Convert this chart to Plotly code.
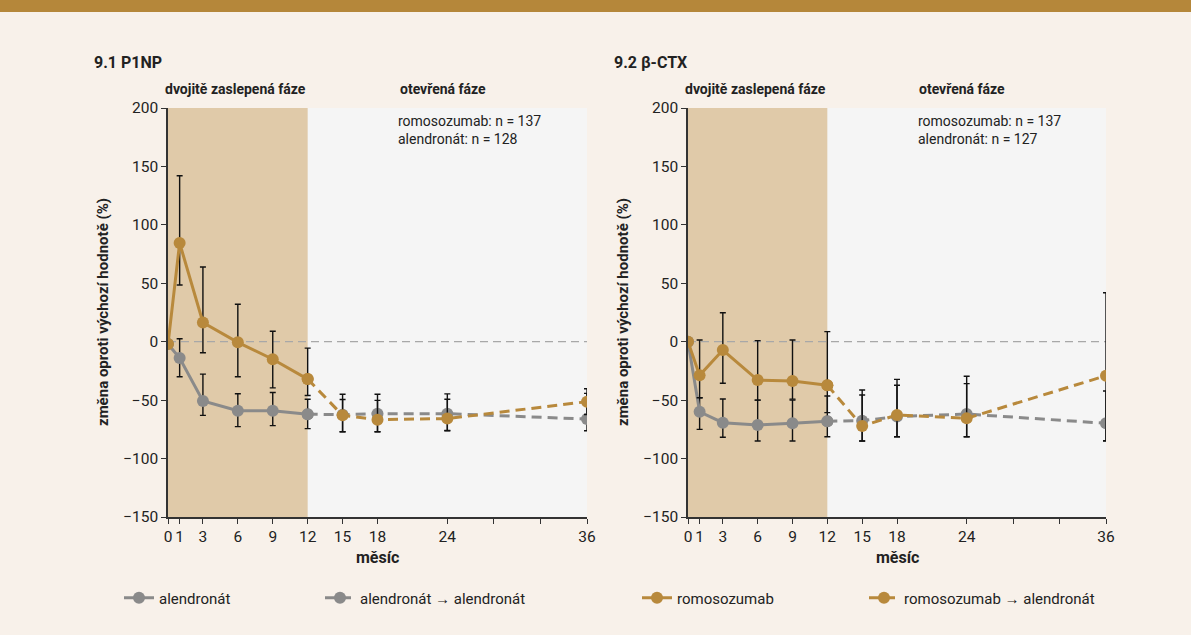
import plotly.graph_objects as go

# ---------------- data ----------------
months_dbl = [0, 1, 3, 6, 9, 12]
months_open = [12, 15, 18, 24, 36]
x_tickvals = [0, 1, 3, 6, 9, 12, 15, 18, 24, 28, 32, 36]
x_ticktext = ["0", "1", "3", "6", "9", "12", "15", "18", "24", "", "", "36"]
y_tickvals = [-150, -100, -50, 0, 50, 100, 150, 200]

# 9.1 P1NP
p1np_romo = [-2, 84.5, 16.5, -0.5, -15, -32]
p1np_romo_hi = [0, 57.5, 47.5, 32.5, 24, 26.5]
p1np_romo_lo = [0, 36, 26, 29.5, 24.5, 14]
p1np_alen = [-2, -14, -50.7, -59, -59, -62]
p1np_alen_hi = [0, 16.5, 23, 14.5, 15.5, 12.8]
p1np_alen_lo = [0, 16, 12.3, 13.7, 12.8, 12.4]
p1np_romo_open = [-32, -63, -66.7, -65.8, -51.3]
p1np_romo_open_hi = [0, 18, 16.5, 16.5, 11]
p1np_romo_open_lo = [0, 14, 10.3, 10.2, 11]
p1np_alen_open = [-62, -62.4, -61.6, -61.6, -66.2]
p1np_alen_open_hi = [0, 13, 16.6, 17, 22]
p1np_alen_open_lo = [0, 14.6, 15.4, 14.6, 10]

# 9.2 beta-CTX
ctx_romo = [0, -28.8, -7.1, -32.8, -33.6, -37.3]
ctx_romo_hi = [0, 30.3, 31.9, 33.7, 35.1, 45.9]
ctx_romo_lo = [0, 19.2, 28.5, 17.2, 15.5, 23.4]
ctx_alen = [0, -60, -69.3, -71.3, -69.8, -68.1]
ctx_alen_hi = [0, 12, 20.3, 21.3, 19.8, 21.7]
ctx_alen_lo = [0, 15, 12.5, 13.7, 15.2, 13.2]
ctx_romo_open = [-37.3, -72.1, -62.7, -65.6, -29.1]
ctx_romo_open_hi = [0, 26.5, 25.4, 29.7, 71]
ctx_romo_open_lo = [0, 12.9, 18.6, 15.7, 55.5]
ctx_alen_open = [-68.1, -67.6, -64, -61.9, -69.8]
ctx_alen_open_hi = [0, 26.3, 31.8, 32.3, 27.6]
ctx_alen_open_lo = [0, 17.4, 17.3, 19.4, 15.2]

n_labels = ["romosozumab: n = 137<br>alendronát: n = 128",
            "romosozumab: n = 137<br>alendronát: n = 127"]
panel_titles = ["9.1 P1NP", "9.2 β-CTX"]
legend_names = ["alendronát", "alendronát → alendronát",
                "romosozumab", "romosozumab → alendronát"]

# ---------------- style ----------------
GOLD = "#b8893c"
GRAY = "#8a8a8a"
TAN = "#e0caa9"
BG = "#f8f1ea"
PLOTBG = "#f5f5f5"
TXT = "#222222"
FONT = "Roboto"
W, H = 1191, 635

fig = go.Figure()


def err(hi, lo):
    return dict(type="data", symmetric=False, array=hi, arrayminus=lo,
                color="#111111", thickness=1.4, width=3)


def add_panel(k, alen, alen_hi, alen_lo, romo, romo_hi, romo_lo,
              alen_o, alen_o_hi, alen_o_lo, romo_o, romo_o_hi, romo_o_lo):
    xa = "x" if k == 1 else "x2"
    ya = "y" if k == 1 else "y2"
    show = k == 1
    fig.add_trace(go.Scatter(
        x=months_open, y=alen_o, mode="lines+markers", name=legend_names[1],
        line=dict(color=GRAY, width=3, dash="10px,6px"),
        marker=dict(size=12, color=GRAY), error_y=err(alen_o_hi, alen_o_lo),
        xaxis=xa, yaxis=ya, showlegend=show, legend="legend2"))
    fig.add_trace(go.Scatter(
        x=months_dbl, y=alen, mode="lines+markers", name=legend_names[0],
        line=dict(color=GRAY, width=3),
        marker=dict(size=12, color=GRAY), error_y=err(alen_hi, alen_lo),
        xaxis=xa, yaxis=ya, showlegend=show, legend="legend"))
    fig.add_trace(go.Scatter(
        x=months_open, y=romo_o, mode="lines+markers", name=legend_names[3],
        line=dict(color=GOLD, width=3, dash="10px,6px"),
        marker=dict(size=12, color=GOLD), error_y=err(romo_o_hi, romo_o_lo),
        xaxis=xa, yaxis=ya, showlegend=show, legend="legend4"))
    fig.add_trace(go.Scatter(
        x=months_dbl, y=romo, mode="lines+markers", name=legend_names[2],
        line=dict(color=GOLD, width=3),
        marker=dict(size=12, color=GOLD), error_y=err(romo_hi, romo_lo),
        xaxis=xa, yaxis=ya, showlegend=show, legend="legend3"))


add_panel(1, p1np_alen, p1np_alen_hi, p1np_alen_lo, p1np_romo, p1np_romo_hi, p1np_romo_lo,
          p1np_alen_open, p1np_alen_open_hi, p1np_alen_open_lo,
          p1np_romo_open, p1np_romo_open_hi, p1np_romo_open_lo)
add_panel(2, ctx_alen, ctx_alen_hi, ctx_alen_lo, ctx_romo, ctx_romo_hi, ctx_romo_lo,
          ctx_alen_open, ctx_alen_open_hi, ctx_alen_open_lo,
          ctx_romo_open, ctx_romo_open_hi, ctx_romo_open_lo)

# domains in pixels
left = [(168, 587), (688, 1106)]
top_px, bot_px = 108, 517
ydom = [1 - bot_px / H, 1 - top_px / H]

axis_common = dict(showgrid=False, zeroline=False, showline=True, automargin=False,
                   linecolor="#333333", linewidth=1.5, ticks="outside",
                   ticklen=5, tickcolor="#333333", tickwidth=1.2,
                   tickfont=dict(family=FONT, size=15.5, color=TXT))

shapes = []
annotations = []
for i, (l, r) in enumerate(left):
    xname = "xaxis" if i == 0 else "xaxis2"
    yname = "yaxis" if i == 0 else "yaxis2"
    xref = "x" if i == 0 else "x2"
    yref = "y" if i == 0 else "y2"
    fig.update_layout(**{
        xname: dict(domain=[l / W, r / W], range=[0, 36], tickvals=x_tickvals,
                    ticktext=x_ticktext, anchor=yref, **axis_common),
        yname: dict(domain=ydom, range=[-150, 200], tickvals=y_tickvals,
                    anchor=xref, **axis_common),
    })
    # double-blind phase band
    shapes.append(dict(type="rect", xref=xref, yref=yref, x0=0, x1=12, y0=-150, y1=200,
                       fillcolor=TAN, line=dict(width=0), layer="below"))
    # zero reference
    shapes.append(dict(type="line", xref=xref, yref=yref, x0=0, x1=36, y0=0, y1=0,
                       line=dict(color="#a8a8a8", width=1.3, dash="8px,5px"), layer="below"))
    # texts
    annotations.append(dict(text="<b>" + panel_titles[i] + "</b>", xref="paper", yref="paper",
                            x=(l - 76) / W, y=1 - 62 / H, xanchor="left", yanchor="middle",
                            showarrow=False, font=dict(family=FONT, size=16, color=TXT)))
    annotations.append(dict(text="<b>dvojitě zaslepená fáze</b>", xref=xref, yref="paper",
                            x=5.8, y=1 - 89 / H, xanchor="center", yanchor="middle",
                            showarrow=False, font=dict(family=FONT, size=14, color=TXT)))
    annotations.append(dict(text="<b>otevřená fáze</b>", xref=xref, yref="paper",
                            x=23.6, y=1 - 89 / H, xanchor="center", yanchor="middle",
                            showarrow=False, font=dict(family=FONT, size=14, color=TXT)))
    annotations.append(dict(text=n_labels[i], xref="paper", yref="paper",
                            x=(l + 228) / W, y=1 - 130 / H, xanchor="left", yanchor="middle",
                            align="left", showarrow=False,
                            font=dict(family=FONT, size=14, color=TXT)))
    annotations.append(dict(text="<b>změna oproti výchozí hodnotě (%)</b>", xref="paper",
                            yref="paper", x=(l - 65) / W, y=1 - 312 / H, textangle=-90,
                            xanchor="center", yanchor="middle", showarrow=False,
                            font=dict(family=FONT, size=15, color=TXT)))
    annotations.append(dict(text="<b>měsíc</b>", xref="paper", yref="paper",
                            x=(l + r) / 2 / W, y=1 - 557 / H, xanchor="center",
                            yanchor="middle", showarrow=False,
                            font=dict(family=FONT, size=16, color=TXT)))

# top decorative band
shapes.append(dict(type="rect", xref="paper", yref="paper", x0=0, x1=1, y0=1 - 12 / H, y1=1,
                   fillcolor="#b5873a", line=dict(width=0), layer="below"))

leg_common = dict(orientation="h", yanchor="middle", xanchor="left", bgcolor="rgba(0,0,0,0)",
                  font=dict(family=FONT, size=15, color=TXT), y=1 - 598 / H)
leg_x = [119, 320, 637, 864]

fig.update_layout(
    width=W, height=H, paper_bgcolor=BG, plot_bgcolor=PLOTBG,
    margin=dict(l=0, r=0, t=0, b=0, pad=0, autoexpand=False),
    shapes=shapes, annotations=annotations,
    font=dict(family=FONT, color=TXT),
    legend=dict(x=leg_x[0] / W, **leg_common),
    legend2=dict(x=leg_x[1] / W, **leg_common),
    legend3=dict(x=leg_x[2] / W, **leg_common),
    legend4=dict(x=leg_x[3] / W, **leg_common),
)

fig.write_html("out.html", config={"displayModeBar": False},
               post_script="document.body.style.margin='0';document.body.style.overflow='hidden';")
